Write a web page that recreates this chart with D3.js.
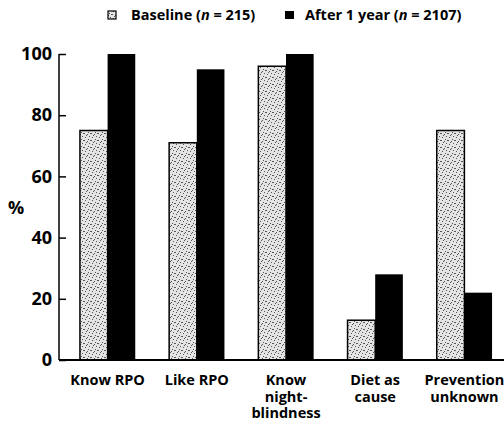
<!DOCTYPE html>
<html><head><meta charset="utf-8">
<script src="https://cdn.jsdelivr.net/npm/d3@7/dist/d3.min.js"></script>
<style>body{margin:0;background:#fff}svg{display:block}text{font-family:"Open Sans",sans-serif;fill:#000}</style>
</head><body>
<script>
const categories = [["Know RPO"],["Like RPO"],["Know","night-","blindness"],["Diet as","cause"],["Prevention","unknown"]];
const baseline = [75, 71, 96, 13, 75];
const afterYear = [100, 95, 100, 28, 22];
const yTicks = [0, 20, 40, 60, 80, 100];

const W = 504, H = 432;
const svg = d3.select("body").append("svg").attr("width", W).attr("height", H);

const defs = svg.append("defs");
const pat = defs.append("pattern").attr("id","stip").attr("patternUnits","userSpaceOnUse").attr("width",7).attr("height",7);
pat.append("rect").attr("width",7).attr("height",7).attr("fill","#e4e4e4");
[[0,0],[3,1],[5,3],[1,4],[4,6],[6,0],[2,2]].forEach(([a,b])=>pat.append("rect").attr("x",a).attr("y",b).attr("width",1).attr("height",1).attr("fill","#555"));

const x = d3.scaleBand().domain(d3.range(categories.length)).range([63, 509]).paddingInner(0.38).paddingOuter(0.19);
const y = d3.scaleLinear().domain([0, 100]).range([360, 54]);
const bw = x.bandwidth() / 2;

// bars
const g = svg.append("g");
g.selectAll(".b0").data(baseline).join("rect")
  .attr("x", (d,i)=>x(i)).attr("y", d=>y(d)).attr("width", bw).attr("height", d=>y(0)-y(d))
  .attr("fill","url(#stip)").attr("stroke","#000").attr("stroke-width",1.5);
g.selectAll(".b1").data(afterYear).join("rect")
  .attr("x", (d,i)=>x(i)+bw).attr("y", d=>y(d)).attr("width", bw).attr("height", d=>y(0)-y(d))
  .attr("fill","#000");

// y axis (ticks inward)
const ya = svg.append("g").attr("transform","translate(59,0)")
  .call(d3.axisRight(y).tickValues(yTicks).tickSize(7).tickFormat(d3.format("d")));
ya.select(".domain").attr("stroke","#000").attr("stroke-width",1.5).attr("d","M0,"+y(100)+"V"+y(0));
ya.selectAll(".tick line").attr("stroke","#000").attr("stroke-width",1.5);
ya.selectAll(".tick text").attr("x",-7).attr("text-anchor","end").attr("font-size",18).attr("font-weight",700).attr("font-family","'Open Sans',sans-serif").attr("fill","#000");

// x axis line
svg.append("line").attr("x1",59).attr("x2",504).attr("y1",y(0)).attr("y2",y(0)).attr("stroke","#000").attr("stroke-width",1.8);

// y label
svg.append("text").attr("x",8).attr("y",214).attr("font-size",18).attr("font-weight",700).text("%");

// category labels
categories.forEach((lines,i)=>{
  const t = svg.append("text").attr("text-anchor","middle").attr("font-size",14.5).attr("font-weight",700)
    .attr("x", x(i)+x.bandwidth()/2).attr("y",385);
  lines.forEach((l,j)=>t.append("tspan").attr("x", x(i)+x.bandwidth()/2).attr("dy", j?16.5:0).text(l));
});

// legend
svg.append("rect").attr("x",108).attr("y",11).attr("width",8).attr("height",8).attr("fill","url(#stip)").attr("stroke","#000").attr("stroke-width",1.2);
const l1 = svg.append("text").attr("x",131).attr("y",19.5).attr("font-size",14.5).attr("font-weight",700);
l1.append("tspan").text("Baseline (");
l1.append("tspan").attr("font-style","italic").text("n");
l1.append("tspan").text(" = 215)");
svg.append("rect").attr("x",285).attr("y",11).attr("width",9).attr("height",8).attr("fill","#000");
const l2 = svg.append("text").attr("x",305).attr("y",19.5).attr("font-size",14.5).attr("font-weight",700);
l2.append("tspan").text("After 1 year (");
l2.append("tspan").attr("font-style","italic").text("n");
l2.append("tspan").text(" = 2107)");
</script>
</body></html>
